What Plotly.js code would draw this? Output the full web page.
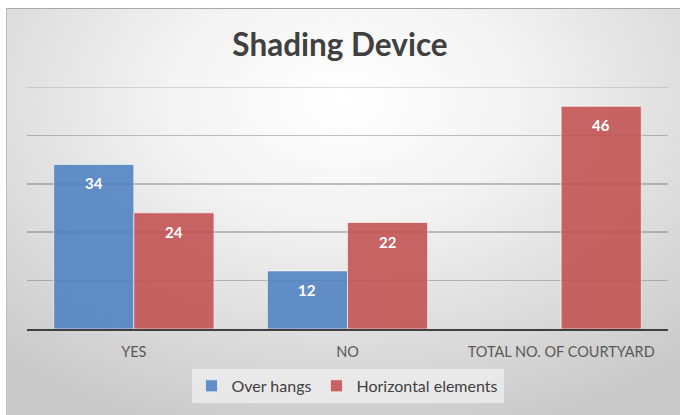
<!DOCTYPE html>
<html>
<head>
<meta charset="utf-8">
<script src="https://cdn.plot.ly/plotly-3.0.1.min.js"></script>
<style>
  html, body { margin:0; padding:0; background:#ffffff; }
  #wrap { position:relative; width:680px; height:415px; overflow:hidden; }
  #bg { position:absolute; left:6px; top:8px; width:674px; height:407px;
        border-top:1px solid #a9a9a9; border-left:1px solid #bdbdbd; box-sizing:border-box;
        background: radial-gradient(ellipse 75% 85% at 50% 22%, #ffffff 0%, #f3f3f3 35%, #e0e0e0 65%, #cacaca 100%); }
  #chart { position:absolute; left:0; top:0; width:680px; height:415px; }
</style>
</head>
<body>
<div id="wrap">
  <div id="bg"></div>
  <div id="chart"></div>
</div>
<script>
const categories = ["YES", "NO", "TOTAL NO. OF COURTYARD"];
const overHangs = [34, 12, null];
const horizontalElements = [24, 22, 46];
const seriesNames = ["Over hangs", "Horizontal elements"];

const traces = [
  {
    type: "bar", x: categories, y: overHangs, name: seriesNames[0], hoverinfo: "none",
    marker: { color: "rgba(78,129,193,0.88)", line: { color: "rgba(255,255,255,0.6)", width: 1 } }
  },
  {
    type: "bar", x: categories, y: horizontalElements, name: seriesNames[1], hoverinfo: "none",
    marker: { color: "rgba(194,80,80,0.88)", line: { color: "rgba(255,255,255,0.6)", width: 1 } }
  }
];

// Data labels inside bar tops, anchored to each bar's value
const plotW = 680 - 27 - 12;
const halfBar = (plotW / categories.length) * (1 - 0.25) / 4;
const annotations = [];
[overHangs, horizontalElements].forEach((series, s) => {
  series.forEach((v, i) => {
    if (v === null || v === undefined) return;
    annotations.push({
      x: categories[i], y: v, xref: "x", yref: "y",
      text: "<b>" + v + "</b>", showarrow: false,
      xanchor: "center", yanchor: "middle",
      xshift: (s === 0 ? -1 : 1) * halfBar, yshift: -19,
      font: { family: "Lato, 'Open Sans', sans-serif", size: 15, color: "#ffffff" }
    });
  });
});

const layout = {
  width: 680, height: 415,
  paper_bgcolor: "rgba(0,0,0,0)",
  plot_bgcolor: "rgba(0,0,0,0)",
  margin: { l: 27, r: 12, t: 87, b: 84 },
  barmode: "group",
  bargap: 0.25,
  bargroupgap: 0,
  showlegend: true,
  annotations: annotations,
  shapes: [{
    type: "line", xref: "paper", x0: 0, x1: 1, yref: "y", y0: 50, y1: 50,
    line: { color: "rgba(110,110,110,0.3)", width: 1.5 }, layer: "below"
  }],
  title: {
    text: "<b>Shading Device</b>",
    x: 0.5, xanchor: "center",
    y: 0.892, yanchor: "middle", yref: "container",
    font: { family: "Lato, 'Open Sans', sans-serif", size: 31.5, color: "#404040" }
  },
  xaxis: {
    type: "category",
    showgrid: false,
    showline: true, linecolor: "#404040", linewidth: 2,
    ticks: "",
    ticklabelstandoff: 9,
    tickfont: { family: "Lato, 'Open Sans', sans-serif", size: 14.5, color: "#595959" },
    fixedrange: true
  },
  yaxis: {
    range: [0, 50],
    dtick: 10,
    showticklabels: false,
    showgrid: true, gridcolor: "rgba(110,110,110,0.42)", gridwidth: 1.5,
    zeroline: false,
    showline: false,
    fixedrange: true
  },
  legend: {
    orientation: "h",
    x: 0.5, xanchor: "center",
    y: -0.165, yanchor: "top",
    bgcolor: "rgba(236,236,236,0.85)",
    font: { family: "Lato, 'Open Sans', sans-serif", size: 16, color: "#404040" },
    itemwidth: 30,
    traceorder: "normal"
  }
};

Plotly.newPlot("chart", traces, layout, { displayModeBar: false, staticPlot: true });
</script>
</body>
</html>
